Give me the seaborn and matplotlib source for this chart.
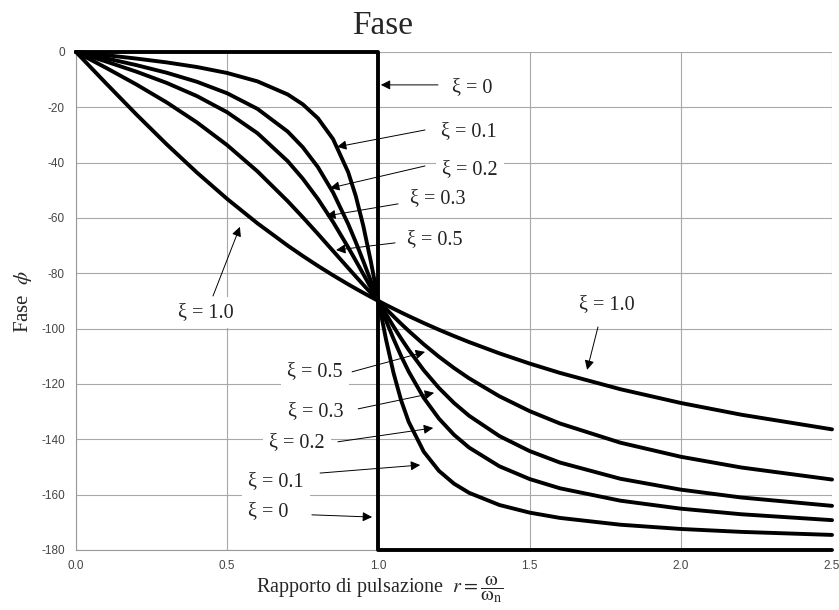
import matplotlib
matplotlib.use("Agg")
import matplotlib.pyplot as plt
import numpy as np
import pandas as pd
import seaborn as sns

# Frequency ratio r = omega / omega_n (shared by the damped curves)
r_grid = [0.0, 0.1, 0.2, 0.3, 0.4, 0.5, 0.6, 0.7, 0.75, 0.8, 0.85, 0.9, 0.925,
          0.95, 0.975, 1.0, 1.025, 1.05, 1.075, 1.1, 1.15, 1.2, 1.25, 1.3, 1.4,
          1.5, 1.6, 1.8, 2.0, 2.2, 2.5]

# Phase angle (degrees) for each damping ratio
phi_xi01 = [0, -1.16, -2.39, -3.77, -5.44, -7.60, -10.62, -15.35, -18.93, -23.96,
            -31.49, -43.45, -52.03, -62.84, -75.79, -90.0, -103.87, -116.02,
            -125.90, -133.67, -144.50, -151.39, -156.04, -159.35, -163.74,
            -166.50, -168.41, -170.87, -172.41, -173.46, -174.56]
phi_xi02 = [0, -2.31, -4.76, -7.51, -10.78, -14.93, -20.56, -28.77, -34.44, -41.63,
            -50.78, -62.18, -68.69, -75.61, -82.78, -90.0, -97.04, -103.71,
            -109.90, -115.51, -125.03, -132.51, -138.37, -143.00, -149.75,
            -154.36, -157.70, -162.18, -165.07, -167.09, -169.22]
phi_xi03 = [0, -3.47, -7.13, -11.19, -15.95, -21.80, -29.36, -39.47, -45.81, -53.13,
            -61.45, -70.62, -75.42, -80.29, -85.18, -90.0, -94.71, -99.24,
            -103.57, -107.65, -115.05, -121.43, -126.87, -131.50, -138.82,
            -144.25, -148.39, -154.26, -158.20, -161.03, -164.05]
phi_xi05 = [0, -5.77, -11.77, -18.24, -25.46, -33.69, -43.15, -53.93, -59.75, -65.77,
            -71.92, -78.08, -81.13, -84.14, -87.10, -90.0, -92.83, -95.58,
            -98.24, -100.81, -105.67, -110.14, -114.23, -117.96, -124.44,
            -129.81, -134.27, -141.22, -146.31, -150.19, -154.54]
phi_xi10 = [0, -11.42, -22.62, -33.40, -43.60, -53.13, -61.93, -69.98, -73.74, -77.32,
            -80.73, -83.97, -85.54, -87.06, -88.55, -90.0, -91.41, -92.79,
            -94.14, -95.45, -97.98, -100.39, -102.68, -104.86, -108.93,
            -112.62, -115.99, -121.89, -126.87, -131.11, -136.40]

# Undamped case: step from 0 to -180 at resonance
r_xi0 = [0.0, 1.0, 1.0, 2.5]
phi_xi0 = [0, 0, -180, -180]

x_ticks = [0.0, 0.5, 1.0, 1.5, 2.0, 2.5]
x_tick_labels = ["0.0", "0.5", "1.0", "1.5", "2.0", "2.5"]
y_ticks = [0, -20, -40, -60, -80, -100, -120, -140, -160, -180]
y_tick_labels = ["0", "-20", "-40", "-60", "-80", "-100", "-120", "-140", "-160", "-180"]

series = [("0", r_xi0, phi_xi0), ("0.1", r_grid, phi_xi01), ("0.2", r_grid, phi_xi02),
          ("0.3", r_grid, phi_xi03), ("0.5", r_grid, phi_xi05), ("1.0", r_grid, phi_xi10)]
df = pd.concat([pd.DataFrame({"r": rr, "phi": pp, "xi": name}) for name, rr, pp in series],
               ignore_index=True)

sns.set_theme(style="white")
plt.rcParams["font.family"] = ["Liberation Serif", "DejaVu Serif"]
plt.rcParams["mathtext.fontset"] = "stix"
plt.rcParams["axes.unicode_minus"] = False

fig = plt.figure(figsize=(8.39, 6.10), dpi=100)
ax = fig.add_axes([0.0906, 0.0984, 0.9011, 0.8164])

sns.lineplot(data=df, x="r", y="phi", hue="xi", estimator=None, sort=False,
             palette={name: "black" for name, _, _ in series}, linewidth=2.8,
             legend=False, ax=ax, zorder=3)
for ln in ax.lines:
    ln.set_clip_on(False)

ax.set_xlim(0, 2.5)
ax.set_ylim(-180, 0)
ax.set_xticks(x_ticks)
ax.set_xticklabels(x_tick_labels, fontfamily="Liberation Sans")
ax.set_yticks(y_ticks)
ax.set_yticklabels(y_tick_labels, fontfamily="Liberation Sans")
ax.tick_params(axis="both", labelsize=8.5, labelcolor="#444444", length=2,
               color="#999999", width=0.8)
ax.tick_params(axis="x", pad=5)
ax.tick_params(axis="y", pad=6)
ax.grid(True, color="#a8a8a8", linewidth=0.8)
ax.set_axisbelow(True)
for side in ["top", "right"]:
    ax.spines[side].set_visible(False)
for side in ["left", "bottom"]:
    ax.spines[side].set_color("#999999")
    ax.spines[side].set_linewidth(0.8)

ax.set_title("Fase", fontsize=24, x=0.406, pad=13)
ax.set_xlabel(r"Rapporto di pulsazione  $r=\dfrac{\mathrm{ω}}{\mathrm{ω}_{\rm n}}$",
              fontsize=14.5)
ax.xaxis.label.set_verticalalignment("baseline")
ax.xaxis.set_label_coords(0.402, -0.087)
ax.set_ylabel(r"Fase  $\phi$", fontsize=15)
ax.yaxis.set_label_coords(-0.055, 0.5)

# Damping-ratio callouts: (label, text centre, arrow tail, arrow tip)
callouts = [
    ("ξ = 0",   (1.310, -13.0), (1.197, -11.9), (1.008, -11.9)),
    ("ξ = 0.1", (1.300, -28.9), (1.154, -28.2), (0.863, -34.3)),
    ("ξ = 0.2", (1.303, -42.6), (1.154, -41.2), (0.840, -49.2)),
    ("ξ = 0.3", (1.197, -52.8), (1.065, -54.9), (0.827, -59.3)),
    ("ξ = 0.5", (1.187, -67.9), (1.055, -69.0), (0.860, -71.6)),
    ("ξ = 1.0", (0.430, -94.3), (0.453, -88.2), (0.542, -63.2)),
    ("ξ = 1.0", (1.756, -91.4), (1.726, -99.4), (1.690, -114.9)),
    ("ξ = 0.5", (0.790, -115.6), (0.913, -115.6), (1.154, -108.4)),
    ("ξ = 0.3", (0.794, -130.1), (0.933, -129.0), (1.184, -123.2)),
    ("ξ = 0.2", (0.731, -141.3), (0.866, -140.9), (1.181, -135.9)),
    ("ξ = 0.1", (0.661, -155.4), (0.807, -152.2), (1.138, -149.3)),
    ("ξ = 0",   (0.635, -166.2), (0.780, -167.3), (0.979, -168.1)),
]
for label, txt, tail, tip in callouts:
    ax.text(txt[0], txt[1], label, fontsize=14.5, ha="center", va="center",
            color="#222222", zorder=4,
            bbox=dict(boxstyle="square,pad=0.3", fc="white", ec="none"))
    ax.annotate("", xy=tip, xytext=tail,
                arrowprops=dict(arrowstyle="-|>", color="black", lw=0.7,
                                mutation_scale=14, shrinkA=0, shrinkB=0),
                zorder=5)

fig.savefig("out.png", dpi=100)
